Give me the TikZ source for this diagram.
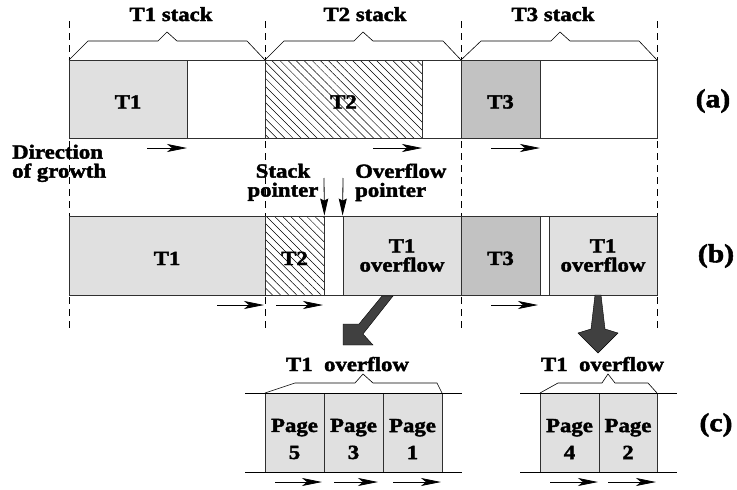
\documentclass[tikz,border=0pt]{standalone}
\usepackage{fontspec}
\setmainfont{Liberation Serif}[FakeStretch=1.14,BoldFont={Liberation Serif Bold},BoldFeatures={FakeStretch=1.14,FakeBold=2}]
\usetikzlibrary{arrows.meta,patterns.meta}
\definecolor{lightfill}{HTML}{E0E0E0}
\definecolor{midfill}{HTML}{C2C2C2}
\definecolor{darkfill}{HTML}{404040}
\definecolor{edge}{HTML}{303030}
\tikzset{
  txt/.style={font=\fontsize{20}{19}\selectfont\bfseries, inner sep=0pt, align=center},
  pagetxt/.style={font=\fontsize{20}{27}\selectfont\bfseries, inner sep=0pt, align=center},
  box/.style={draw=edge, line width=0.8pt, minimum height=79pt, inner sep=0pt, txt},
  lbox/.style={box, fill=lightfill},
  mbox/.style={box, fill=midfill},
  wbox/.style={box, fill=white},
  hbox/.style={box, pattern={Lines[angle=-45,distance=5.7pt,line width=0.5pt]}},
  oneline/.style={text height=19pt},
  growarrow/.style={-{Stealth[length=20pt,width=8pt,inset=5pt]}, line width=0.8pt},
  ptrarrow/.style={-{Stealth[length=17pt,width=8pt,inset=2pt]}, line width=0.8pt},
  guideline/.style={dash pattern=on 7pt off 5pt, line width=0.6pt},
  braceline/.style={line width=0.6pt},
  bigarrow/.style={fill=darkfill, draw=black, line width=0.4pt},
  tagtxt/.style={font=\fontsize{26}{26}\selectfont\bfseries, inner sep=0pt},
  railline/.style={line width=0.8pt}
}
\begin{document}
\begin{tikzpicture}[x=1pt,y=-1pt]
\useasboundingbox (0,0) rectangle (737,490);
% dashed guide lines
\foreach \gx/\gn in {69/1,265/2,461/3,657/4}{
  \coordinate (g\gn t) at (\gx,21);
  \coordinate (g\gn b) at (\gx,328);
  \draw[guideline] (g\gn t) -- (g\gn b);
}
% ---------- row (a)
\node[wbox, minimum width=588pt, minimum height=78pt] (aall) at (363,99) {};
\node[lbox, oneline, minimum width=118pt, minimum height=78pt] (aT1) at (128,99) {T1};
\node[hbox, oneline, minimum width=157pt, minimum height=78pt] (aT2) at (343.5,99) {T2};
\node[mbox, oneline, minimum width=79pt, minimum height=78pt] (aT3) at (500.5,99) {T3};
% braces
\draw[braceline] (69,60) -- (88,41) -- (158,41) -- (167,32) -- (177,41) -- (247,41) -- (265,60);
\draw[braceline] (265,60) -- (284,41) -- (354,41) -- (363,32) -- (373,41) -- (443,41) -- (461,60);
\draw[braceline] (461,60) -- (481,41) -- (551,41) -- (560,32) -- (570,41) -- (639,41) -- (657,60);
\node[txt, anchor=base] (s1) at (171,21) {T1 stack};
\node[txt, anchor=base] (s2) at (365,21) {T2 stack};
\node[txt, anchor=base] (s3) at (553,21) {T3 stack};
\node[tagtxt] (la) at (713,101) {(a)};
% growth arrows (a)
\draw[growarrow] (147,148) -- (187,148);
\draw[growarrow] (373,148) -- (422,148);
\draw[growarrow] (491,148) -- (540,148);
% labels
\node[txt, align=left, anchor=north west] (dir) at (12,144.5) {Direction\\of growth};
\node[txt, anchor=north] (spl) at (283,163.5) {Stack\\pointer};
\node[txt, align=left, anchor=north west] (opl) at (355,163.5) {Overflow\\pointer};
% ---------- row (b)
\node[lbox, oneline, minimum width=196pt] (bT1) at (167,255.5) {T1};
\node[hbox, oneline, minimum width=59pt] (bT2) at (294.5,255.5) {T2};
\node[wbox, minimum width=19pt] (bg1) at (333.5,255.5) {};
\node[lbox, minimum width=118pt] (bO1) at (402,255.5) {T1\\overflow};
\node[mbox, oneline, minimum width=79pt] (bT3) at (500.5,255.5) {T3};
\node[wbox, minimum width=9pt] (bg2) at (544.5,255.5) {};
\node[lbox, minimum width=108pt] (bO2) at (603,255.5) {T1\\overflow};
\node[tagtxt] (lb) at (716,256) {(b)};
% pointers
\coordinate (spt) at (324,178);
\coordinate (opt) at (343,178);
\draw[ptrarrow] (spt) -- (bT2.north east);
\draw[ptrarrow] (opt) -- (bO1.north west);
% growth arrows (b)
\draw[growarrow] (217,305) -- (264,305);
\draw[growarrow] (276,305) -- (323,305);
\draw[growarrow] (491,305) -- (538,305);
% big arrows
\fill[bigarrow] (382,296) -- (393,296) -- (363,334) -- (373,345) -- (343,345) -- (343,324) -- (359,324) -- cycle;
\fill[bigarrow] (595,295) -- (601,295) -- (605,329) -- (618,333) -- (598,353) -- (578,333) -- (591,329) -- cycle;
% ---------- row (c)
\node[lbox, minimum width=59pt] (c5) at (294.5,432.5) {};
\node[lbox, minimum width=59pt] (c3) at (353.5,432.5) {};
\node[lbox, minimum width=59pt] (c1) at (412.5,432.5) {};
\node[lbox, minimum width=59pt] (c4) at (569.5,432.5) {};
\node[lbox, minimum width=58pt] (c2) at (628,432.5) {};
\node[pagetxt] (c5t) at (294.5,439) {Page\\5};
\node[pagetxt] (c3t) at (353.5,439) {Page\\3};
\node[pagetxt] (c1t) at (412.5,439) {Page\\1};
\node[pagetxt] (c4t) at (569.5,439) {Page\\4};
\node[pagetxt] (c2t) at (628,439) {Page\\2};
\draw[railline] (245,393) -- (462,393);
\draw[railline] (245,472) -- (462,472);
\draw[railline] (520,393) -- (677,393);
\draw[railline] (520,472) -- (677,472);
\draw[braceline] (265,393) -- (295,383) -- (355,383) -- (363,374) -- (373,383) -- (437,383) -- (442,393);
\draw[braceline] (540,393) -- (558,383) -- (602,383) -- (608,374) -- (615,383) -- (648,383) -- (657,393);
\node[txt, anchor=base] (o1) at (347.5,371) {T1\ \ overflow};
\node[txt, anchor=base] (o2) at (602.5,371) {T1\ \ overflow};
\node[tagtxt] (lc) at (716,425) {(c)};
% growth arrows (c)
\draw[growarrow] (275,482) -- (322,482);
\draw[growarrow] (334,482) -- (378,482);
\draw[growarrow] (393,482) -- (441,482);
\draw[growarrow] (550,482) -- (598,482);
\draw[growarrow] (608,482) -- (656,482);
\end{tikzpicture}
\end{document}
